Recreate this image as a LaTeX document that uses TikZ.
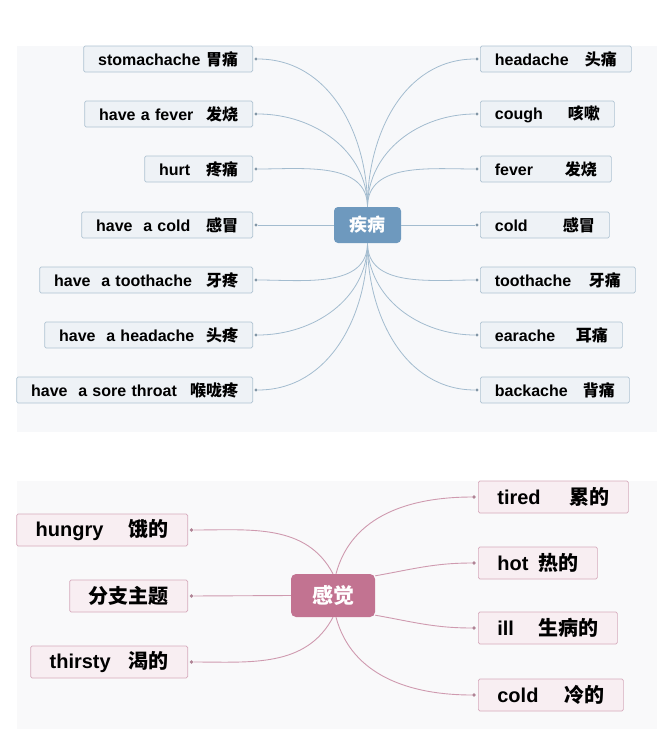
\documentclass[tikz,border=0pt]{standalone}
\usepackage{fontspec}
\setmainfont{Liberation Sans}
\newfontfamily\cjk{Noto Sans CJK SC}
\newcommand\zh[1]{{\cjk #1}}
\newlength\rpad
\newcommand\pair[3][1pt]{#2\hfill\zh{#3}\hspace*{#1}}
\definecolor{tBg}{HTML}{F7F8FA}
\definecolor{bBg}{HTML}{F9F9FA}
\definecolor{tFill}{HTML}{EEF2F6}
\definecolor{tBorder}{HTML}{AFC3D2}
\definecolor{tLine}{HTML}{A3BCCF}
\definecolor{tCenter}{HTML}{6E99BE}
\definecolor{bFill}{HTML}{F8EEF2}
\definecolor{bBorder}{HTML}{D6AABC}
\definecolor{bLine}{HTML}{CF9AAF}
\definecolor{bCenter}{HTML}{C27391}
\begin{document}
\begin{tikzpicture}[x=1pt,y=-1pt,
  tbox/.style={draw=tBorder, fill=tFill, line width=0.7pt, rounded corners=1.5pt,
    inner xsep=14.5pt, inner ysep=0pt, minimum height=26pt, text width=#1,
    align=left, font=\bfseries\fontsize{16}{18}\selectfont},
  bbox/.style={draw=bBorder, fill=bFill, line width=0.7pt, rounded corners=1.5pt,
    inner xsep=19pt, inner ysep=0pt, minimum height=32pt, text width=#1,
    align=left, font=\bfseries\fontsize{20}{22}\selectfont},
  tcenter/.style={fill=tCenter, rounded corners=4pt, minimum width=67pt, minimum height=36pt,
    inner sep=0pt, text=white, font=\bfseries\fontsize{18}{20}\selectfont},
  bcenter/.style={fill=bCenter, rounded corners=5pt, minimum width=84pt, minimum height=43pt,
    inner sep=0pt, text=white, font=\bfseries\fontsize{21}{23}\selectfont},
  tdot/.style={circle, fill=tLine!80!black, inner sep=0pt, minimum size=3.4pt},
  bdot/.style={circle, fill=bLine!85!black, inner sep=0pt, minimum size=3.6pt},
  tconn/.style={draw=tLine, line width=0.8pt},
  bconn/.style={draw=bLine, line width=0.9pt}
]
\useasboundingbox (0,0) rectangle (657,729);
\fill[white] (0,0) rectangle (657,729);
\fill[tBg] (17,46) rectangle (657,432);
\fill[bBg] (17,481) rectangle (657,729);

% ---------- top map ----------
\node[tcenter] (c1) at (367.5,225) {\zh{疾病}};

\node[tbox=140pt, anchor=east] (l1) at (253,59)  {\pair{stomachache}{胃痛}};
\node[tbox=139pt, anchor=east] (l2) at (253,114) {\pair[5pt]{have a fever}{发烧}};
\node[tbox=79pt,  anchor=east] (l3) at (253,169) {\pair{hurt}{疼痛}};
\node[tbox=142pt, anchor=east] (l4) at (253,225) {\pair[3pt]{have\ \ a cold}{感冒}};
\node[tbox=184pt, anchor=east] (l5) at (253,280) {\pair[6pt]{have\ \ a toothache}{牙疼}};
\node[tbox=179pt, anchor=east] (l6) at (253,335) {\pair[6pt]{have\ \ a headache}{头疼}};
\node[tbox=207pt, anchor=east] (l7) at (253,390) {\pair[6pt]{have\ \ a sore throat}{喉咙疼}};

\node[tbox=122pt, anchor=west] (r1) at (480,59)  {\pair[3pt]{headache}{头痛}};
\node[tbox=105pt, anchor=west] (r2) at (480,114) {\pair{cough}{咳嗽}};
\node[tbox=102pt, anchor=west] (r3) at (480,169) {\pair{fever}{发烧}};
\node[tbox=100pt, anchor=west] (r4) at (480,225) {\pair[5pt]{cold}{感冒}};
\node[tbox=126pt, anchor=west] (r5) at (480,280) {\pair[3pt]{toothache}{牙痛}};
\node[tbox=113pt, anchor=west] (r6) at (480,335) {\pair[3pt]{earache}{耳痛}};
\node[tbox=120pt, anchor=west] (r7) at (480,390) {\pair[3pt]{backache}{背痛}};

\foreach \i in {1,...,7}{
  \node[tdot] (l\i d) at ([xshift=3pt]l\i.east) {};
  \node[tdot] (r\i d) at ([xshift=-3pt]r\i.west) {};
}

\foreach \i in {1,2,3}{
  \draw[tconn] (c1.north) to[out=90,in=0] (l\i d);
  \draw[tconn] (c1.north) to[out=90,in=180] (r\i d);
}
\draw[tconn] (c1.west) -- (l4d);
\draw[tconn] (c1.east) -- (r4d);
\foreach \i in {5,6,7}{
  \draw[tconn] (c1.south) to[out=-90,in=0] (l\i d);
  \draw[tconn] (c1.south) to[out=-90,in=180] (r\i d);
}

% ---------- bottom map ----------
\node[bcenter] (c2) at (333,595.5) {\zh{感觉}};

\node[bbox=133pt, anchor=east] (h1) at (188,530) {\pair[3pt]{hungry}{饿的}};
\node[bbox=80pt, anchor=east, align=center] (h2) at (188,596) {\zh{分支主题}};
\node[bbox=119pt, anchor=east] (h3) at (188,662) {\pair[3pt]{thirsty}{渴的}};

\node[bbox=112pt, anchor=west] (s1) at (478,497) {\pair[3pt]{tired}{累的}};
\node[bbox=81pt,  anchor=west] (s2) at (478,563) {\pair[3pt]{hot}{热的}};
\node[bbox=101pt, anchor=west] (s3) at (478,628) {\pair[3pt]{ill}{生病的}};
\node[bbox=107pt, anchor=west] (s4) at (478,695) {\pair[3pt]{cold}{冷的}};

\foreach \i in {1,2,3}{
  \node[bdot] (h\i d) at ([xshift=3.5pt]h\i.east) {};
}
\foreach \i in {1,2,3,4}{
  \node[bdot] (s\i d) at ([xshift=-4pt]s\i.west) {};
}

\draw[bconn] (c2.north) to[out=118,in=0] (h1d);
\draw[bconn] (c2.west) -- (h2d);
\draw[bconn] (c2.south) to[out=-118,in=0] (h3d);
\draw[bconn] ([xshift=3pt]c2.north) to[out=75,in=180] (s1d);
\draw[bconn] (c2.25) to[out=10,in=180] (s2d);
\draw[bconn] (c2.-25) to[out=-10,in=180] (s3d);
\draw[bconn] ([xshift=3pt]c2.south) to[out=-75,in=180] (s4d);
\end{tikzpicture}
\end{document}
